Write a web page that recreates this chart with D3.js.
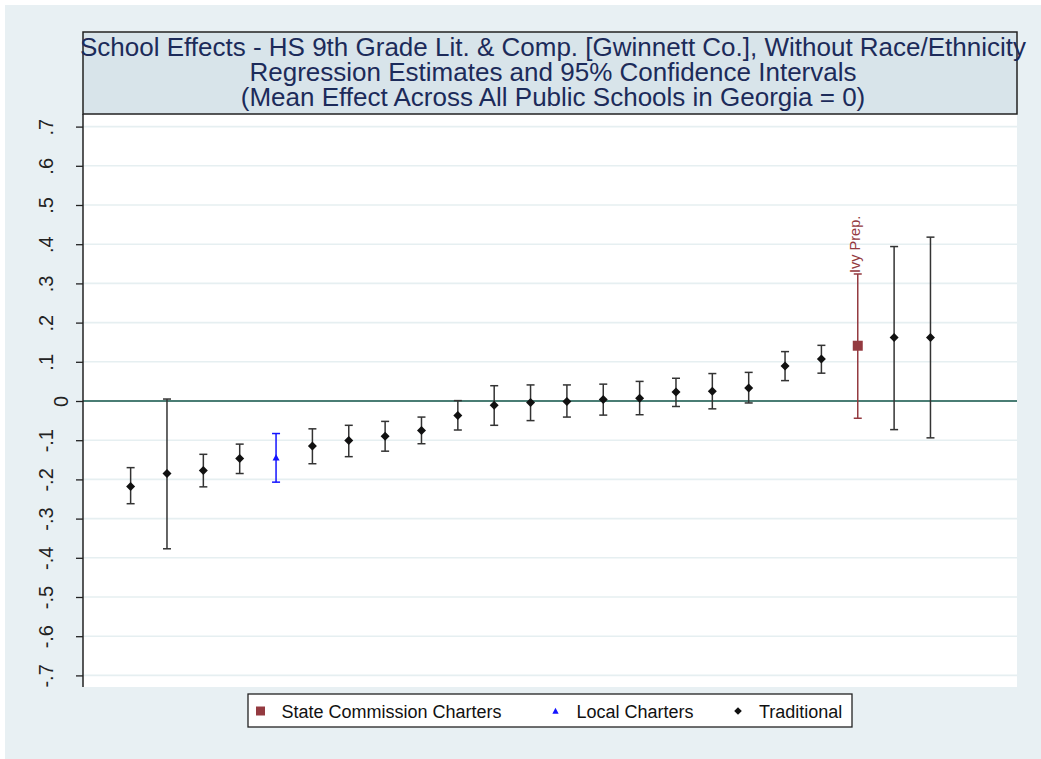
<!DOCTYPE html>
<html>
<head>
<meta charset="utf-8">
<script src="https://cdn.jsdelivr.net/npm/d3@7"></script>
<style>
  html, body { margin: 0; padding: 0; background: #ffffff; }
  svg { display: block; font-family: "Liberation Sans", Arial, sans-serif; }
</style>
</head>
<body>
<svg id="chart" width="1041" height="759"></svg>
<script>
// ---- data ----
const schoolRank = [1,2,3,4,5,6,7,8,9,10,11,12,13,14,15,16,17,18,19,20,21,22,23];
const schoolType = ["trad","trad","trad","trad","local","trad","trad","trad","trad","trad",
                    "trad","trad","trad","trad","trad","trad","trad","trad","trad","trad",
                    "state","trad","trad"];
const estimate = [-0.218,-0.185,-0.177,-0.147,-0.144,-0.115,-0.101,-0.090,-0.075,-0.037,
                  -0.011,-0.004,-0.001,0.004,0.007,0.023,0.025,0.033,0.089,0.107,
                  0.141,0.162,0.162];
const ciLow  = [-0.262,-0.377,-0.219,-0.185,-0.207,-0.160,-0.142,-0.128,-0.109,-0.074,
                -0.062,-0.050,-0.041,-0.036,-0.035,-0.014,-0.020,-0.005,0.052,0.071,
                -0.044,-0.073,-0.094];
const ciHigh = [-0.170,0.005,-0.136,-0.110,-0.083,-0.071,-0.062,-0.052,-0.041,0.001,
                0.039,0.041,0.041,0.043,0.050,0.058,0.070,0.073,0.126,0.142,
                0.324,0.394,0.418];
const schoolLabel = ["","","","","","","","","","","","","","","","","","","","","Ivy Prep.","",""];
const yTickValues = [0.7,0.6,0.5,0.4,0.3,0.2,0.1,0,-0.1,-0.2,-0.3,-0.4,-0.5,-0.6,-0.7];
const yTickLabels = [".7",".6",".5",".4",".3",".2",".1","0","-.1","-.2","-.3","-.4","-.5","-.6","-.7"];
const titleLines = [
  "School Effects - HS 9th Grade Lit. & Comp. [Gwinnett Co.], Without Race/Ethnicity",
  "Regression Estimates and 95% Confidence Intervals",
  "(Mean Effect Across All Public Schools in Georgia = 0)"
];
const legendTypes = ["state","local","trad"];
const legendLabels = ["State Commission Charters","Local Charters","Traditional"];

// ---- styles ----
const colors = { state: "#943a40", local: "#1414ff", trad: "#111111" };
const barColors = { state: "#943a40", local: "#1414ff", trad: "#333333" };

const svg = d3.select("#chart");
const W = 1041, H = 759;
const plot = { left: 83, right: 1017, top: 114, bottom: 687 };

// background
svg.append("rect").attr("x", 5).attr("y", 5).attr("width", W - 5).attr("height", H - 5).attr("fill", "#e8f0f3");
svg.append("rect").attr("x", plot.left).attr("y", plot.top)
  .attr("width", plot.right - plot.left).attr("height", plot.bottom - plot.top).attr("fill", "#ffffff");

// scales
const x = d3.scaleLinear().domain([-0.31, 25.38]).range([plot.left, plot.right]);
const y = d3.scaleLinear().domain([-0.7, 0.7]).range([675.4, 126.6]);

// grid
svg.append("g").selectAll("line").data(yTickValues.filter(v => v !== 0)).join("line")
  .attr("x1", plot.left).attr("x2", plot.right)
  .attr("y1", d => y(d)).attr("y2", d => y(d))
  .attr("stroke", "#e6eff1").attr("stroke-width", 1.6);

// zero line
svg.append("line").attr("x1", plot.left).attr("x2", plot.right)
  .attr("y1", y(0)).attr("y2", y(0)).attr("stroke", "#4a7d74").attr("stroke-width", 2);

// y axis
const yAxis = d3.axisLeft(y).tickValues(yTickValues)
  .tickFormat((d, i) => yTickLabels[i]).tickSize(7).tickSizeOuter(0);
const ag = svg.append("g").attr("transform", `translate(${plot.left},0)`).call(yAxis);
ag.select(".domain").remove();
ag.selectAll(".tick line").attr("stroke", "#222").attr("stroke-width", 1.3);
ag.selectAll(".tick text")
  .attr("x", 0).attr("dy", null).attr("y", 0)
  .attr("transform", d => `translate(${d === 0 ? -15 : -30},0) rotate(-90)`)
  .attr("text-anchor", "middle")
  .attr("font-size", 20).attr("fill", "#222")
  .attr("font-family", "'Liberation Sans', Arial, sans-serif");
svg.append("line").attr("x1", plot.left).attr("x2", plot.left)
  .attr("y1", plot.top).attr("y2", plot.bottom).attr("stroke", "#222").attr("stroke-width", 1.5);

// error bars
const pts = schoolRank.map((r, i) => ({ r, t: schoolType[i], e: estimate[i], lo: ciLow[i], hi: ciHigh[i], lab: schoolLabel[i] }));
const cap = 4;
const eg = svg.append("g");
pts.forEach(p => {
  const c = barColors[p.t];
  const g = eg.append("g").attr("stroke", c).attr("stroke-width", 1.5);
  g.append("line").attr("x1", x(p.r)).attr("x2", x(p.r)).attr("y1", y(p.lo)).attr("y2", y(p.hi));
  g.append("line").attr("x1", x(p.r) - cap).attr("x2", x(p.r) + cap).attr("y1", y(p.lo)).attr("y2", y(p.lo));
  g.append("line").attr("x1", x(p.r) - cap).attr("x2", x(p.r) + cap).attr("y1", y(p.hi)).attr("y2", y(p.hi));
});

// markers
function markerPath(t) {
  if (t === "state") return "M-5,-5L5,-5L5,5L-5,5Z";
  if (t === "local") return "M0,-3.5L3.5,3L-3.5,3Z";
  return "M0,-4.5L4.5,0L0,4.5L-4.5,0Z";
}
svg.append("g").selectAll("path").data(pts).join("path")
  .attr("d", d => markerPath(d.t))
  .attr("transform", d => `translate(${x(d.r)},${y(d.e)})`)
  .attr("fill", d => colors[d.t]);

// labels
svg.append("g").selectAll("text").data(pts.filter(d => d.lab)).join("text")
  .attr("transform", d => `translate(${x(d.r) + 2.5},${y(d.hi) - 1}) rotate(-90)`)
  .attr("text-anchor", "start")
  .attr("font-size", 14.5).attr("fill", "#943a40")
  .text(d => d.lab);

// title box
svg.append("rect").attr("x", plot.left).attr("y", 32).attr("width", plot.right - plot.left).attr("height", plot.top - 32)
  .attr("fill", "#d8e4ea").attr("stroke", "#222").attr("stroke-width", 1.5);
const titleY = [56, 80.5, 105.5];
svg.append("g").selectAll("text").data(titleLines).join("text")
  .attr("x", 553).attr("y", (d, i) => titleY[i])
  .attr("text-anchor", "middle").attr("font-size", 26).attr("fill", "#1c2b5a")
  .text(d => d);

// legend
const lg = svg.append("g");
lg.append("rect").attr("x", 248).attr("y", 694).attr("width", 604).attr("height", 33)
  .attr("fill", "#ffffff").attr("stroke", "#222").attr("stroke-width", 1.3);
const legX = [260.5, 555.5, 738];
legendTypes.forEach((t, i) => {
  let d = markerPath(t);
  let sc = t === "state" ? 0.9 : (t === "local" ? 0.9 : 0.85);
  lg.append("path").attr("d", d).attr("transform", `translate(${legX[i]},711) scale(${sc})`).attr("fill", colors[t]);
  lg.append("text").attr("x", legX[i] + 21).attr("y", 717.5).attr("font-size", 18).attr("fill", "#111")
    .text(legendLabels[i]);
});
</script>
</body>
</html>
